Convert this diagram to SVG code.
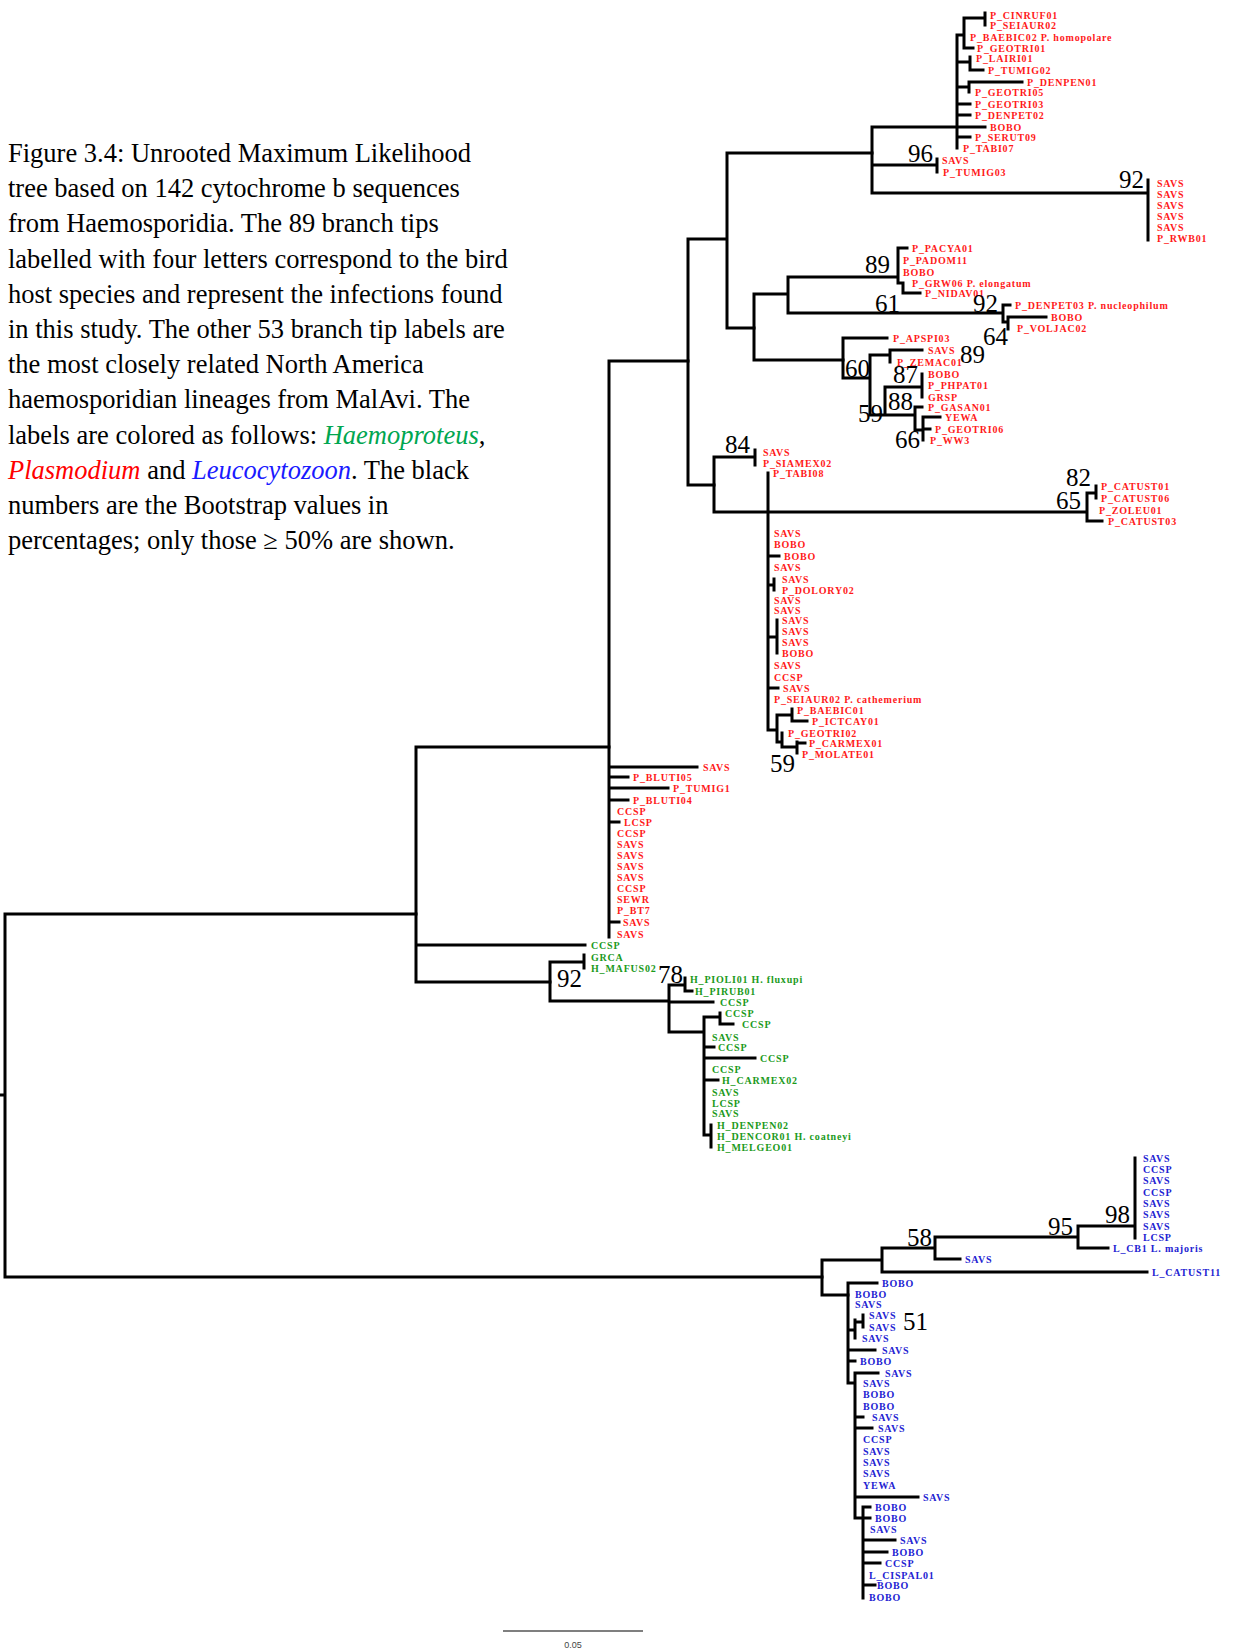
<svg xmlns="http://www.w3.org/2000/svg" width="1237" height="1650" viewBox="0 0 1237 1650">
<style>
.cap{font-family:"Liberation Serif","Times New Roman",serif;font-size:26.5px;fill:#000}
.t{font-family:"Liberation Serif","Times New Roman",serif;font-weight:bold;font-size:10px;letter-spacing:0.8px}
.r{fill:#ff1a1a}.g{fill:#1b9a1b}.b{fill:#2323d2}
.bs{font-family:"Liberation Serif","Times New Roman",serif;font-size:25px;fill:#000}
.br{fill:none;stroke:#000;stroke-width:3;stroke-linecap:square}
</style>
<rect width="1237" height="1650" fill="#fff"/>
<g id="caption" class="cap">
<text x="8" y="162">Figure 3.4: Unrooted Maximum Likelihood</text>
<text x="8" y="197">tree based on 142 cytochrome b sequences</text>
<text x="8" y="232">from Haemosporidia. The 89 branch tips</text>
<text x="8" y="268">labelled with four letters correspond to the bird</text>
<text x="8" y="303">host species and represent the infections found</text>
<text x="8" y="338">in this study. The other 53 branch tip labels are</text>
<text x="8" y="373">the most closely related North America</text>
<text x="8" y="408">haemosporidian lineages from MalAvi. The</text>
<text x="8" y="444">labels are colored as follows: <tspan font-style="italic" fill="#00a650">Haemoproteus</tspan>,</text>
<text x="8" y="479"><tspan font-style="italic" fill="#ff0000">Plasmodium</tspan> and <tspan font-style="italic" fill="#1a1aff">Leucocytozoon</tspan>. The black</text>
<text x="8" y="514">numbers are the Bootstrap values in</text>
<text x="8" y="549">percentages; only those ≥ 50% are shown.</text>
</g>
<g id="branches" class="br">
<path d="M0,1095H5M5,914V1277M5,914H416M5,1277H822"/>
<path d="M416,747V982M416,747H609M416,945H585M416,982H550"/>
<path d="M609,361V937M609,361H688M609,767H697M609,777H628M609,788H668M609,800H628M609,822H619M609,922H619"/>
<path d="M688,239V485M688,239H727M688,485H714M727,153V328M727,153H872M727,328H754"/>
<path d="M872,127V193M872,127H957M872,165H937M872,193H1148M957,35V148M957,35H964M964,18V48M964,18H985M985,13V25M964,48H973M957,62H970M970,57V70M970,70H983M957,87H969M969,82V92M969,82H1022M957,104H970M957,115H970M957,127H985M957,137H970M937,159V172M1148,180V240"/>
<path d="M754,294V360M754,294H788M754,360H843M788,277V313M788,277H898M788,313H1003M898,248V283M898,248H907M898,283H903M903,283V293M903,293H920M1003,305V322M1003,305H1010M1003,322H1008M1008,317V329M1008,317H1046"/>
<path d="M843,338V378M843,338H887M843,378H870M870,355V415M870,355H890M890,350V362M890,350H922M870,415H915M885,387V415M885,387H922M922,374V397M915,407V430M915,407H922M915,430H923M923,417V440M923,417H940M923,429H930"/>
<path d="M714,457V512M714,457H755M755,450V465M714,512H1087M1087,493V521M1087,493H1096M1096,486V498M1087,521H1102"/>
<path d="M768,473V730M768,556H779M768,585H774M774,579V590M768,637H777M777,620V653M768,688H778M768,730H777M777,715V742M777,715H792M792,709V721M792,721H807M777,742H782M782,733V747M782,747H797M797,742V753M797,743H805"/>
<path d="M550,962V1001M550,962H584M584,955V968M550,1001H669M669,985V1032M669,985H685M685,978V991M685,991H692M669,1002H713M669,1032H704M704,1017V1135M704,1017H720M720,1013V1024M720,1024H733M704,1047H714M704,1058H755M704,1080H718M704,1135H711M711,1125V1147"/>
<path d="M822,1260V1295M822,1260H882M822,1295H848M882,1248V1272M882,1248H935M882,1272H1147M935,1237V1259M935,1237H1078M935,1259H960M1078,1226V1248M1078,1226H1135M1078,1248H1108M1135,1158V1238"/>
<path d="M848,1283V1383M848,1283H877M848,1330H855M855,1320V1338M855,1322H863M863,1315V1327M848,1350H875M848,1361H855M848,1383H855M855,1373V1518M855,1373H878M855,1417H863M855,1428H872M855,1497H918M855,1518H863M863,1507V1598M863,1507H870M863,1518H870M863,1540H895M863,1552H887M863,1563H880M863,1585H875"/>
</g>
<g id="plasmodium-top" class="t r">
<text x="990" y="18.5">P_CINRUF01</text>
<text x="990" y="28.5">P_SEIAUR02</text>
<text x="970" y="40.5">P_BAEBIC02 P. homopolare</text>
<text x="977" y="51.5">P_GEOTRI01</text>
<text x="976" y="61.5">P_LAIRI01</text>
<text x="988" y="73.5">P_TUMIG02</text>
<text x="1027" y="85.5">P_DENPEN01</text>
<text x="975" y="95.5">P_GEOTRI05</text>
<text x="975" y="107.5">P_GEOTRI03</text>
<text x="975" y="118.5">P_DENPET02</text>
<text x="990" y="130.5">BOBO</text>
<text x="975" y="140.5">P_SERUT09</text>
<text x="963" y="151.5">P_TABI07</text>
<text x="942" y="163.5">SAVS</text>
<text x="943" y="175.5">P_TUMIG03</text>
<text x="1157" y="186.5">SAVS</text>
<text x="1157" y="197.5">SAVS</text>
<text x="1157" y="208.5">SAVS</text>
<text x="1157" y="219.5">SAVS</text>
<text x="1157" y="230.5">SAVS</text>
<text x="1157" y="241.5">P_RWB01</text>
</g>
<g id="plasmodium-mid" class="t r">
<text x="912" y="251.5">P_PACYA01</text>
<text x="903" y="263.5">P_PADOM11</text>
<text x="903" y="275.5">BOBO</text>
<text x="912" y="286.5">P_GRW06 P. elongatum</text>
<text x="925" y="296.5">P_NIDAV01</text>
<text x="1015" y="308.5">P_DENPET03 P. nucleophilum</text>
<text x="1051" y="320.5">BOBO</text>
<text x="1017" y="331.5">P_VOLJAC02</text>
<text x="893" y="341.5">P_APSPI03</text>
<text x="928" y="353.5">SAVS</text>
<text x="897" y="365.5">P_ZEMAC01</text>
<text x="928" y="377.5">BOBO</text>
<text x="928" y="388.5">P_PHPAT01</text>
<text x="928" y="400.5">GRSP</text>
<text x="928" y="410.5">P_GASAN01</text>
<text x="945" y="420.5">YEWA</text>
<text x="935" y="432.5">P_GEOTRI06</text>
<text x="930" y="443.5">P_WW3</text>
</g>
<g id="plasmodium-low" class="t r">
<text x="763" y="455.5">SAVS</text>
<text x="763" y="466.5">P_SIAMEX02</text>
<text x="773" y="476.5">P_TABI08</text>
<text x="1101" y="489.5">P_CATUST01</text>
<text x="1101" y="501.5">P_CATUST06</text>
<text x="1099" y="513.5">P_ZOLEU01</text>
<text x="1108" y="524.5">P_CATUST03</text>
<text x="774" y="536.5">SAVS</text>
<text x="774" y="547.5">BOBO</text>
<text x="784" y="559.5">BOBO</text>
<text x="774" y="570.5">SAVS</text>
<text x="782" y="582.5">SAVS</text>
<text x="782" y="593.5">P_DOLORY02</text>
<text x="774" y="603.5">SAVS</text>
<text x="774" y="613.5">SAVS</text>
<text x="782" y="623.5">SAVS</text>
<text x="782" y="634.5">SAVS</text>
<text x="782" y="645.5">SAVS</text>
<text x="782" y="656.5">BOBO</text>
<text x="774" y="668.5">SAVS</text>
<text x="774" y="680.5">CCSP</text>
<text x="783" y="691.5">SAVS</text>
<text x="774" y="702.5">P_SEIAUR02 P. cathemerium</text>
<text x="797" y="713.5">P_BAEBIC01</text>
<text x="812" y="724.5">P_ICTCAY01</text>
<text x="788" y="736.5">P_GEOTRI02</text>
<text x="809" y="746.5">P_CARMEX01</text>
<text x="802" y="757.5">P_MOLATE01</text>
</g>
<g id="plasmodium-base" class="t r">
<text x="703" y="770.5">SAVS</text>
<text x="633" y="780.5">P_BLUTI05</text>
<text x="673" y="791.5">P_TUMIG1</text>
<text x="633" y="803.5">P_BLUTI04</text>
<text x="617" y="814.5">CCSP</text>
<text x="624" y="825.5">LCSP</text>
<text x="617" y="836.5">CCSP</text>
<text x="617" y="847.5">SAVS</text>
<text x="617" y="858.5">SAVS</text>
<text x="617" y="869.5">SAVS</text>
<text x="617" y="880.5">SAVS</text>
<text x="617" y="891.5">CCSP</text>
<text x="617" y="902.5">SEWR</text>
<text x="617" y="913.5">P_BT7</text>
<text x="623" y="925.5">SAVS</text>
<text x="617" y="937.5">SAVS</text>
</g>
<g id="haemoproteus" class="t g">
<text x="591" y="948.5">CCSP</text>
<text x="591" y="960.5">GRCA</text>
<text x="591" y="971.5">H_MAFUS02</text>
<text x="690" y="982.5">H_PIOLI01 H. fluxupi</text>
<text x="695" y="994.5">H_PIRUB01</text>
<text x="720" y="1005.5">CCSP</text>
<text x="725" y="1016.5">CCSP</text>
<text x="742" y="1027.5">CCSP</text>
<text x="712" y="1040.5">SAVS</text>
<text x="718" y="1050.5">CCSP</text>
<text x="760" y="1061.5">CCSP</text>
<text x="712" y="1072.5">CCSP</text>
<text x="722" y="1083.5">H_CARMEX02</text>
<text x="712" y="1095.5">SAVS</text>
<text x="712" y="1106.5">LCSP</text>
<text x="712" y="1116.5">SAVS</text>
<text x="717" y="1128.5">H_DENPEN02</text>
<text x="717" y="1139.5">H_DENCOR01 H. coatneyi</text>
<text x="717" y="1150.5">H_MELGEO01</text>
</g>
<g id="leucocytozoon" class="t b">
<text x="1143" y="1161.5">SAVS</text>
<text x="1143" y="1172.5">CCSP</text>
<text x="1143" y="1183.5">SAVS</text>
<text x="1143" y="1195.5">CCSP</text>
<text x="1143" y="1206.5">SAVS</text>
<text x="1143" y="1217.5">SAVS</text>
<text x="1143" y="1229.5">SAVS</text>
<text x="1143" y="1240.5">LCSP</text>
<text x="1113" y="1251.5">L_CB1 L. majoris</text>
<text x="965" y="1262.5">SAVS</text>
<text x="1152" y="1275.5">L_CATUST11</text>
<text x="882" y="1286.5">BOBO</text>
<text x="855" y="1297.5">BOBO</text>
<text x="855" y="1307.5">SAVS</text>
<text x="869" y="1318.5">SAVS</text>
<text x="869" y="1330.5">SAVS</text>
<text x="862" y="1341.5">SAVS</text>
<text x="882" y="1353.5">SAVS</text>
<text x="860" y="1364.5">BOBO</text>
<text x="885" y="1376.5">SAVS</text>
<text x="863" y="1386.5">SAVS</text>
<text x="863" y="1397.5">BOBO</text>
<text x="863" y="1409.5">BOBO</text>
<text x="872" y="1420.5">SAVS</text>
<text x="878" y="1431.5">SAVS</text>
<text x="863" y="1442.5">CCSP</text>
<text x="863" y="1454.5">SAVS</text>
<text x="863" y="1465.5">SAVS</text>
<text x="863" y="1476.5">SAVS</text>
<text x="863" y="1488.5">YEWA</text>
<text x="923" y="1500.5">SAVS</text>
<text x="875" y="1510.5">BOBO</text>
<text x="875" y="1521.5">BOBO</text>
<text x="870" y="1532.5">SAVS</text>
<text x="900" y="1543.5">SAVS</text>
<text x="892" y="1555.5">BOBO</text>
<text x="885" y="1566.5">CCSP</text>
<text x="869" y="1578.5">L_CISPAL01</text>
<text x="877" y="1588.5">BOBO</text>
<text x="869" y="1600.5">BOBO</text>
</g>
<g id="bootstrap" class="bs">
<text x="908" y="162">96</text>
<text x="1119" y="188">92</text>
<text x="865" y="273">89</text>
<text x="875" y="312">61</text>
<text x="973" y="312">92</text>
<text x="983" y="345">64</text>
<text x="845" y="377">60</text>
<text x="960" y="363">89</text>
<text x="893" y="383">87</text>
<text x="888" y="410">88</text>
<text x="858" y="422">59</text>
<text x="895" y="448">66</text>
<text x="725" y="453">84</text>
<text x="1066" y="486">82</text>
<text x="1056" y="509">65</text>
<text x="770" y="772">59</text>
<text x="557" y="987">92</text>
<text x="658" y="983">78</text>
<text x="907" y="1246">58</text>
<text x="1048" y="1235">95</text>
<text x="1105" y="1223">98</text>
<text x="903" y="1330">51</text>
</g>
<g id="scale">
<line x1="503" y1="1631" x2="643" y2="1631" stroke="#555" stroke-width="1.5"/>
<text x="573" y="1648" text-anchor="middle" font-family="Liberation Sans, Arial, sans-serif" font-size="9" fill="#444">0.05</text>
</g>
</svg>
